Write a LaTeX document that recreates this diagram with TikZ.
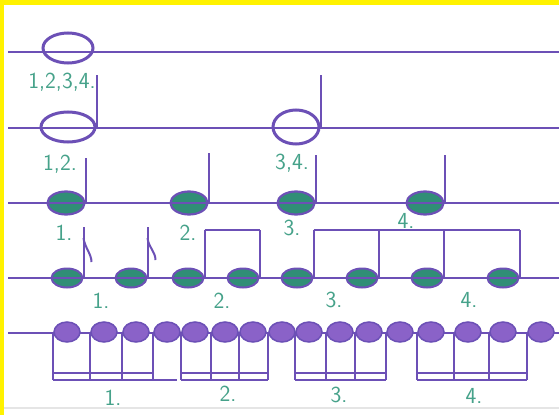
\documentclass[tikz,border=0pt]{standalone}
\usepackage{tikz}
\usetikzlibrary{shapes, arrows.meta, positioning}
\usepackage{xcolor}

\definecolor{ink}{RGB}{108,80,182}
\definecolor{tealfill}{RGB}{48,142,118}
\definecolor{plum}{RGB}{138,98,200}
\definecolor{numteal}{RGB}{70,162,138}

\begin{document}
\begin{tikzpicture}[x=1pt,y=-1pt,
  staff/.style={draw=ink, line width=2.5pt},
  stem/.style={draw=ink, line width=2pt},
  openhead/.style={ellipse, draw=ink, line width=3pt, inner sep=0pt},
  qhead/.style={ellipse, draw=ink, fill=tealfill, line width=2.2pt, inner sep=0pt, minimum width=37pt, minimum height=23pt},
  ehead/.style={ellipse, draw=ink, fill=tealfill, line width=2pt, inner sep=0pt, minimum width=31pt, minimum height=19pt},
  shead/.style={ellipse, draw=ink, fill=plum, line width=1.5pt, inner sep=0pt, minimum width=26pt, minimum height=20pt},
  num/.style={text=numteal, font=\fontsize{23}{25}\selectfont\sffamily, inner sep=0pt}]

\useasboundingbox (0,0) rectangle (559,415);
\fill[white] (0,0) rectangle (559,415);
\fill[yellow] (0,0) rectangle (559,5);
\fill[yellow] (0,0) rectangle (4,415);
\draw[gray!20, line width=1.5pt] (4,408) -- (559,408);

% whole note
\draw[staff] (8,52) -- (559,52);
\node[openhead, minimum width=50pt, minimum height=30pt] (w1) at (68,48) {};
\node[num] (lw) at (62,82) {1,2,3,4.};

% half notes
\draw[staff] (8,128) -- (559,128);
\node[openhead, minimum width=54pt, minimum height=30pt] (h1) at (68,127) {};
\node[openhead, minimum width=46pt, minimum height=34pt] (h2) at (296,127) {};
\draw[stem] (h1.east) -- ++(0,-52);
\draw[stem] (h2.east) -- ++(0,-52);
\node[num] (lh1) at (60,164) {1,2.};
\node[num] (lh2) at (292,163) {3,4.};

% quarter notes
\node[qhead] (q1) at (66,203) {};
\node[qhead] (q2) at (189,203) {};
\node[qhead] (q3) at (296,203) {};
\node[qhead] (q4) at (425,203) {};
\draw[staff] (8,203) -- (559,203);
\draw[stem] (q1.east) -- ++(0,-45);
\draw[stem] (q2.east) -- ++(0,-50);
\draw[stem] (q3.east) -- ++(0,-48);
\draw[stem] (q4.east) -- ++(0,-48);
\node[num] (lq1) at (64,233) {1.};
\node[num] (lq2) at (188,233) {2.};
\node[num] (lq3) at (292,228) {3.};
\node[num] (lq4) at (406,221) {4.};

% eighth notes
\node[ehead] (e1) at (67,278) {};
\node[ehead] (e2) at (131,278) {};
\node[ehead] (e3) at (188,278) {};
\node[ehead] (e4) at (243,278) {};
\node[ehead] (e5) at (297,278) {};
\node[ehead] (e6) at (362,278) {};
\node[ehead] (e7) at (427,278) {};
\node[ehead] (e8) at (503,278) {};
\draw[staff] (8,278) -- (559,278);
\draw[stem] (e1.east) -- ++(0,-51) coordinate (t1);
\draw[stem] (e2.east) -- ++(0,-51) coordinate (t2);
\draw[stem] (e3.east) -- ++(0,-48) coordinate (t3);
\draw[stem] (e4.east) -- ++(0,-48) coordinate (t4);
\draw[stem] (e5.east) -- ++(0,-48) coordinate (t5);
\draw[stem] (e6.east) -- ++(0,-48) coordinate (t6);
\draw[stem] (e7.east) -- ++(0,-48) coordinate (t7);
\draw[stem] (e8.east) -- ++(0,-48) coordinate (t8);
\draw[stem] ([yshift=-11pt]t1) .. controls +(1,9) and +(0,-8) .. ([xshift=8pt,yshift=-35pt]t1);
\draw[stem] ([yshift=-11pt]t2) .. controls +(1,9) and +(0,-8) .. ([xshift=8pt,yshift=-33pt]t2);
\draw[stem] (t3) -- (t4);
\draw[stem] (t5) -- (t8);
\node[num] (le1) at (101,301) {1.};
\node[num] (le2) at (222,301) {2.};
\node[num] (le3) at (334,300) {3.};
\node[num] (le4) at (469,300) {4.};

% sixteenth notes
\draw[staff] (8,333) -- (559,333);
\node[shead] (s1) at (67,332) {};
\node[shead] (s2) at (104,332) {};
\node[shead] (s3) at (136,332) {};
\node[shead] (s4) at (167,332) {};
\node[shead] (s5) at (195,332) {};
\node[shead] (s6) at (225,332) {};
\node[shead] (s7) at (253,332) {};
\node[shead] (s8) at (282,332) {};
\node[shead] (s9) at (309,332) {};
\node[shead] (s10) at (340,332) {};
\node[shead] (s11) at (369,332) {};
\node[shead] (s12) at (400,332) {};
\node[shead] (s13) at (431,332) {};
\node[shead] (s14) at (468,332) {};
\node[shead] (s15) at (503,332) {};
\node[shead] (s16) at (541,332) {};
\draw[stem] (s1.west) -- ++(0,48) coordinate (b1);
\draw[stem] (s2.west) -- ++(0,48) coordinate (b2);
\draw[stem] (s3.west) -- ++(0,48) coordinate (b3);
\draw[stem] (s4.west) -- ++(0,48) coordinate (b4);
\draw[stem] (s5.west) -- ++(0,48) coordinate (b5);
\draw[stem] (s6.west) -- ++(0,48) coordinate (b6);
\draw[stem] (s7.west) -- ++(0,48) coordinate (b7);
\draw[stem] (s8.west) -- ++(0,48) coordinate (b8);
\draw[stem] (s9.west) -- ++(0,48) coordinate (b9);
\draw[stem] (s10.west) -- ++(0,48) coordinate (b10);
\draw[stem] (s11.west) -- ++(0,48) coordinate (b11);
\draw[stem] (s12.west) -- ++(0,48) coordinate (b12);
\draw[stem] (s13.west) -- ++(0,48) coordinate (b13);
\draw[stem] (s14.west) -- ++(0,48) coordinate (b14);
\draw[stem] (s15.west) -- ++(0,48) coordinate (b15);
\draw[stem] (s16.west) -- ++(0,48) coordinate (b16);
\draw[stem] (b1) -- ([xshift=24pt]b4);
\draw[stem] ([yshift=7pt]b1) -- ([yshift=7pt]b4);
\draw[stem] (b5) -- (b8);
\draw[stem] ([yshift=7pt]b5) -- ([yshift=7pt]b8);
\draw[stem] (b9) -- (b12);
\draw[stem] ([yshift=7pt]b9) -- ([yshift=7pt]b12);
\draw[stem] (b13) -- (b16);
\draw[stem] ([yshift=7pt]b13) -- ([yshift=7pt]b16);
\node[num] (ls1) at (113,398) {1.};
\node[num] (ls2) at (228,394) {2.};
\node[num] (ls3) at (339,395) {3.};
\node[num] (ls4) at (474,396) {4.};

\end{tikzpicture}
\end{document}
